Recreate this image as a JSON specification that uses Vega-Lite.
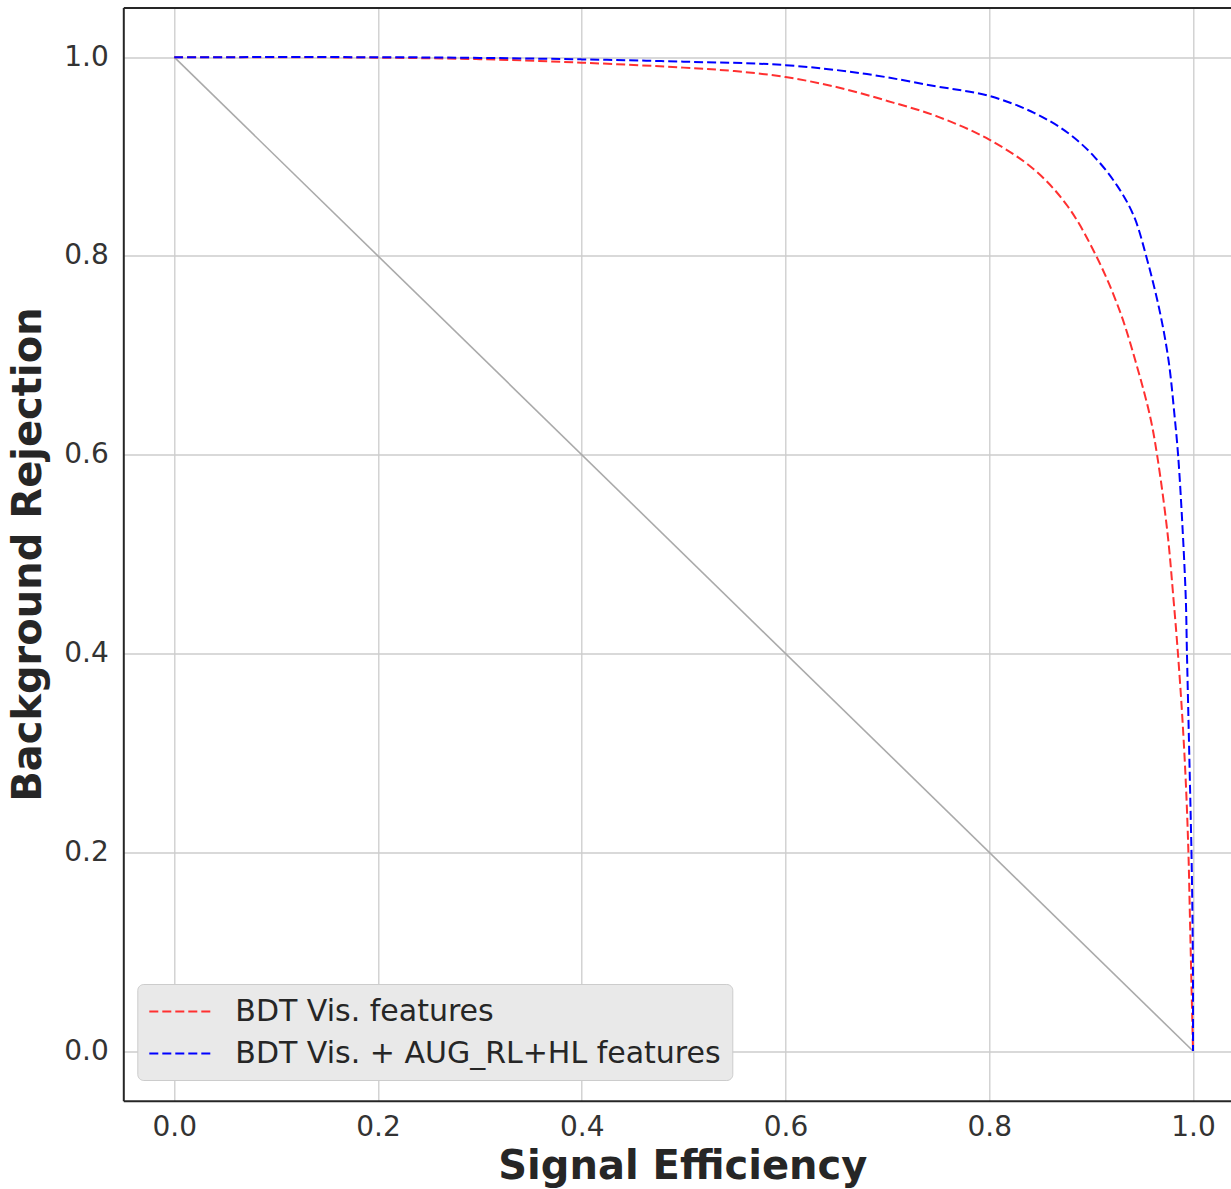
{
  "$schema": "https://vega.github.io/schema/vega-lite/v6.json",
  "autosize": {"type": "none"},
  "padding": {"left": 123.3, "top": 7.5, "right": 0, "bottom": 88.3},
  "width": 1107.7,
  "height": 1093.2,
  "datasets": {
    "diag": [{"x": 0, "y": 1}, {"x": 1, "y": 0}],
    "roc": [
      {"series": "BDT Vis. features", "i": 0, "x": 0.0, "y": 1.0},
      {"series": "BDT Vis. features", "i": 1, "x": 0.1, "y": 1.0},
      {"series": "BDT Vis. features", "i": 2, "x": 0.2, "y": 0.9995},
      {"series": "BDT Vis. features", "i": 3, "x": 0.3, "y": 0.998},
      {"series": "BDT Vis. features", "i": 4, "x": 0.4, "y": 0.9945},
      {"series": "BDT Vis. features", "i": 5, "x": 0.5, "y": 0.9895},
      {"series": "BDT Vis. features", "i": 6, "x": 0.55, "y": 0.986},
      {"series": "BDT Vis. features", "i": 7, "x": 0.6, "y": 0.98},
      {"series": "BDT Vis. features", "i": 8, "x": 0.65, "y": 0.97},
      {"series": "BDT Vis. features", "i": 9, "x": 0.7, "y": 0.956},
      {"series": "BDT Vis. features", "i": 10, "x": 0.75, "y": 0.94},
      {"series": "BDT Vis. features", "i": 11, "x": 0.8, "y": 0.917},
      {"series": "BDT Vis. features", "i": 12, "x": 0.844, "y": 0.887},
      {"series": "BDT Vis. features", "i": 13, "x": 0.877, "y": 0.85},
      {"series": "BDT Vis. features", "i": 14, "x": 0.905, "y": 0.8},
      {"series": "BDT Vis. features", "i": 15, "x": 0.928, "y": 0.745},
      {"series": "BDT Vis. features", "i": 16, "x": 0.945, "y": 0.689},
      {"series": "BDT Vis. features", "i": 17, "x": 0.958, "y": 0.638},
      {"series": "BDT Vis. features", "i": 18, "x": 0.965, "y": 0.598},
      {"series": "BDT Vis. features", "i": 19, "x": 0.975, "y": 0.521},
      {"series": "BDT Vis. features", "i": 20, "x": 0.981, "y": 0.453},
      {"series": "BDT Vis. features", "i": 21, "x": 0.985, "y": 0.403},
      {"series": "BDT Vis. features", "i": 22, "x": 0.9895, "y": 0.336},
      {"series": "BDT Vis. features", "i": 23, "x": 0.993, "y": 0.269},
      {"series": "BDT Vis. features", "i": 24, "x": 0.9955, "y": 0.2},
      {"series": "BDT Vis. features", "i": 25, "x": 0.997, "y": 0.134},
      {"series": "BDT Vis. features", "i": 26, "x": 0.9985, "y": 0.067},
      {"series": "BDT Vis. features", "i": 27, "x": 1.0, "y": 0.0},
      {"series": "BDT Vis. + AUG_RL+HL features", "i": 0, "x": 0.0, "y": 1.0},
      {"series": "BDT Vis. + AUG_RL+HL features", "i": 1, "x": 0.2, "y": 1.0},
      {"series": "BDT Vis. + AUG_RL+HL features", "i": 2, "x": 0.3, "y": 0.9993},
      {"series": "BDT Vis. + AUG_RL+HL features", "i": 3, "x": 0.4, "y": 0.9978},
      {"series": "BDT Vis. + AUG_RL+HL features", "i": 4, "x": 0.5, "y": 0.9955},
      {"series": "BDT Vis. + AUG_RL+HL features", "i": 5, "x": 0.6, "y": 0.992},
      {"series": "BDT Vis. + AUG_RL+HL features", "i": 6, "x": 0.68, "y": 0.983},
      {"series": "BDT Vis. + AUG_RL+HL features", "i": 7, "x": 0.746, "y": 0.971},
      {"series": "BDT Vis. + AUG_RL+HL features", "i": 8, "x": 0.8, "y": 0.961},
      {"series": "BDT Vis. + AUG_RL+HL features", "i": 9, "x": 0.844, "y": 0.944},
      {"series": "BDT Vis. + AUG_RL+HL features", "i": 10, "x": 0.877, "y": 0.924},
      {"series": "BDT Vis. + AUG_RL+HL features", "i": 11, "x": 0.903, "y": 0.9},
      {"series": "BDT Vis. + AUG_RL+HL features", "i": 12, "x": 0.926, "y": 0.87},
      {"series": "BDT Vis. + AUG_RL+HL features", "i": 13, "x": 0.942, "y": 0.84},
      {"series": "BDT Vis. + AUG_RL+HL features", "i": 14, "x": 0.954, "y": 0.8},
      {"series": "BDT Vis. + AUG_RL+HL features", "i": 15, "x": 0.967, "y": 0.746},
      {"series": "BDT Vis. + AUG_RL+HL features", "i": 16, "x": 0.976, "y": 0.695},
      {"series": "BDT Vis. + AUG_RL+HL features", "i": 17, "x": 0.982, "y": 0.638},
      {"series": "BDT Vis. + AUG_RL+HL features", "i": 18, "x": 0.9855, "y": 0.598},
      {"series": "BDT Vis. + AUG_RL+HL features", "i": 19, "x": 0.99, "y": 0.521},
      {"series": "BDT Vis. + AUG_RL+HL features", "i": 20, "x": 0.993, "y": 0.453},
      {"series": "BDT Vis. + AUG_RL+HL features", "i": 21, "x": 0.994, "y": 0.403},
      {"series": "BDT Vis. + AUG_RL+HL features", "i": 22, "x": 0.9955, "y": 0.336},
      {"series": "BDT Vis. + AUG_RL+HL features", "i": 23, "x": 0.997, "y": 0.269},
      {"series": "BDT Vis. + AUG_RL+HL features", "i": 24, "x": 0.9985, "y": 0.2},
      {"series": "BDT Vis. + AUG_RL+HL features", "i": 25, "x": 0.9995, "y": 0.134},
      {"series": "BDT Vis. + AUG_RL+HL features", "i": 26, "x": 1.0, "y": 0.067},
      {"series": "BDT Vis. + AUG_RL+HL features", "i": 27, "x": 1.0, "y": 0.0}
    ]
  },
  "resolve": {"axis": {"x": "independent"}},
  "layer": [
    {
      "data": {"name": "diag"},
      "mark": {"type": "line", "color": "#aaaaaa", "strokeWidth": 1.6},
      "encoding": {
        "x": {"field": "x", "type": "quantitative",
              "scale": {"domain": [-0.05, 1.0373], "nice": false, "zero": false},
              "axis": {"orient": "top", "labels": false, "grid": false, "ticks": false, "title": null}},
        "y": {"field": "y", "type": "quantitative",
              "scale": {"domain": [-0.05, 1.05], "nice": false, "zero": false},
              "axis": {"orient": "left", "grid": true, "values": [0, 0.2, 0.4, 0.6, 0.8, 1.0], "format": ".1f", "title": "Background Rejection",
                       "labelPadding": 15, "titlePadding": 15}}
      }
    },
    {
      "data": {"name": "roc"},
      "mark": {"type": "line", "strokeWidth": 2, "strokeDash": [9, 4], "interpolate": "catmull-rom"},
      "encoding": {
        "x": {"field": "x", "type": "quantitative",
              "axis": {"orient": "bottom", "grid": true, "values": [0, 0.2, 0.4, 0.6, 0.8, 1.0], "format": ".1f", "title": "Signal Efficiency",
                       "labelPadding": 13, "titlePadding": 5, "titleX": 559}},
        "y": {"field": "y", "type": "quantitative",
              "axis": {"orient": "left", "grid": true, "values": [0, 0.2, 0.4, 0.6, 0.8, 1.0], "format": ".1f", "title": "Background Rejection",
                       "labelPadding": 15, "titlePadding": 15}},
        "order": {"field": "i", "type": "quantitative"},
        "color": {"field": "series", "type": "nominal",
                  "scale": {"domain": ["BDT Vis. features", "BDT Vis. + AUG_RL+HL features"], "range": ["#ff3030", "#0000ff"]},
                  "legend": {"orient": "none", "legendX": 14, "legendY": 976.5, "title": null,
                             "symbolType": "M-1,0H3", "symbolStrokeWidth": 2, "symbolSize": 961, "symbolDash": [9, 4],
                             "symbolFillColor": "transparent",
                             "labelFont": "DejaVu Sans", "labelFontSize": 30, "labelColor": "#262626", "labelLimit": 900,
                             "labelOffset": 54, "fillColor": "#e9e9e9", "strokeColor": "#cccccc", "cornerRadius": 6,
                             "padding": 11, "rowPadding": 10}}
      }
    }
  ],
  "config": {
    "view": {"stroke": null},
    "axis": {
      "domainColor": "#262626", "domainWidth": 2,
      "gridColor": "#cccccc", "gridWidth": 1.3,
      "ticks": false,
      "labelFont": "DejaVu Sans", "labelFontSize": 28, "labelColor": "#333333",
      "titleFont": "DejaVu Sans", "titleFontSize": 40, "titleFontWeight": "bold", "titleColor": "#262626"
    }
  }
}
